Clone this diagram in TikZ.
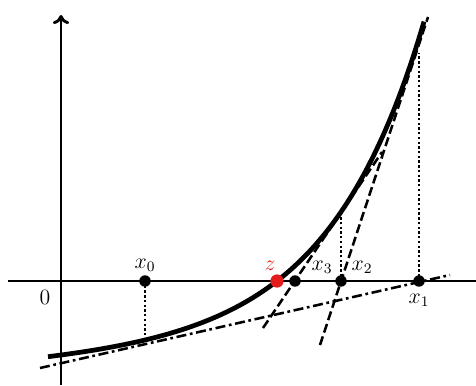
\documentclass[tikz,border=0pt]{standalone}
\usetikzlibrary{arrows.meta}
\definecolor{zred}{RGB}{228,28,28}
\tikzset{
  axis/.style={line width=1.6pt},
  curve/.style={line width=2.6pt},
  dot/.style={circle,fill=black,inner sep=0pt,minimum size=6.3pt},
  rdot/.style={circle,fill=zred,inner sep=0pt,minimum size=7.3pt},
  dotline/.style={line width=1.3pt,dash pattern=on 1.3pt off 1.3pt},
  tandash/.style={line width=1.4pt,dash pattern=on 5pt off 2.2pt},
  tandashdot/.style={line width=1.4pt,dash pattern=on 5.5pt off 2pt on 1.5pt off 2pt},
  lbl/.style={inner sep=1pt,font=\large}
}
\begin{document}
\begin{tikzpicture}[x=0.55pt,y=-0.55pt]
\useasboundingbox (0,0) rectangle (476,385);
% axes
\coordinate (yb) at (61,385);
\coordinate (yt) at (61,15);
\coordinate (xl) at (8,281);
\coordinate (xr) at (476,281);
\draw[axis] (xl) -- (xr);
\draw[axis,-{To[length=5pt,width=9pt]}] (yb) -- (yt);
% curve
\draw[curve] plot[domain=-229:147,samples=120,variable=\u]
  ({277+\u},{281-(68.1*(exp(0.0105*\u)-1)+0.06*\u)});
% tangent lines
\coordinate (t0a) at (40,368);
\coordinate (t0b) at (450,275);
\draw[tandashdot] (t0a) -- (t0b);
\coordinate (t1a) at (320,345);
\coordinate (t1b) at (428,17);
\draw[tandash] (t1a) -- (t1b);
\coordinate (t2a) at (263,328);
\coordinate (t2b) at (382,152);
\draw[tandash] (t2a) -- (t2b);
% points on axis
\node[dot] (x0) at (145,281) {};
\node[dot] (x3) at (295,281) {};
\node[dot] (x2) at (341,281) {};
\node[dot] (x1) at (419,281) {};
\node[rdot] (z) at (277,281) {};
% dotted verticals
\coordinate (p0) at (145,340);
\coordinate (p2) at (341,213);
\coordinate (p1) at (419,53);
\draw[dotline] (x0.center) -- (p0);
\draw[dotline] (x2.center) -- (p2);
\draw[dotline] (x1.center) -- (p1);
% labels
\node[lbl] (l0) at (45,297) {$0$};
\node[lbl] (lx0) at (145,265) {$x_0$};
\node[lbl,text=zred] (lz) at (270,266) {$z$};
\node[lbl] (lx3) at (322,267) {$x_3$};
\node[lbl] (lx2) at (362,267) {$x_2$};
\node[lbl] (lx1) at (419,300) {$x_1$};
\end{tikzpicture}
\end{document}
